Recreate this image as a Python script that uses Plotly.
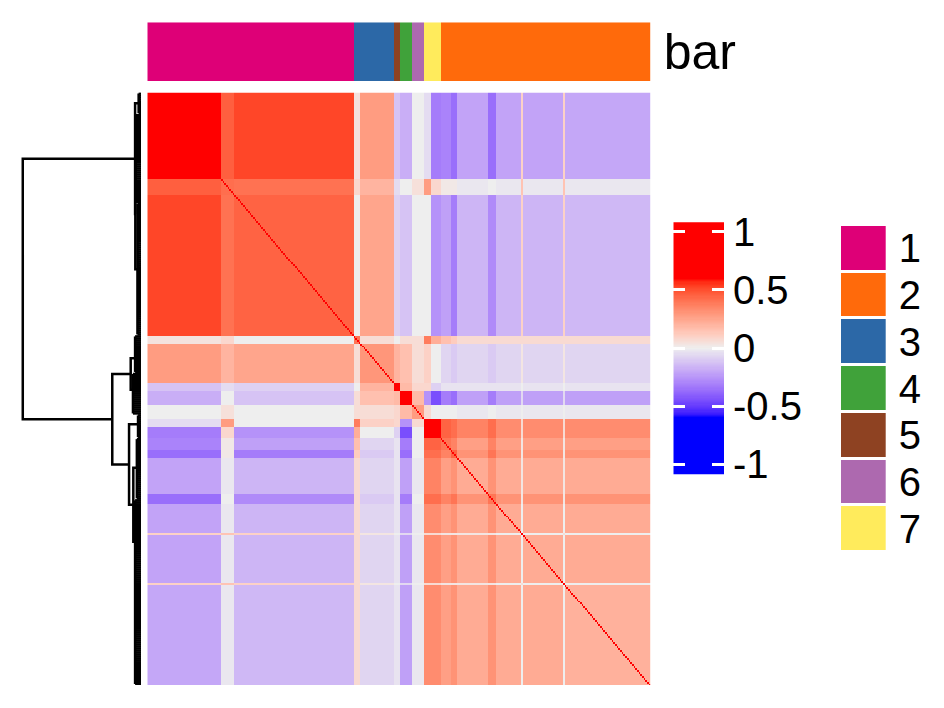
import numpy as np
import plotly.graph_objects as go

W, H = 944, 708
OFF = 8  # page body margin of the rendered html
FONT = "Liberation Sans, Arial, sans-serif"

# ---------------- data ----------------
# top annotation: cluster label of each column block (column order) and block sizes
bar_clusters = ["1", "3", "5", "4", "6", "7", "2"]
bar_sizes = [123, 24, 4, 7, 7, 10, 125]

legend_labels = ["1", "2", "3", "4", "5", "6", "7"]
legend_colors = ["#DE0077", "#FF6A0B", "#2C68A7", "#40A23A", "#8E4222", "#AD69AF", "#FFEB5C"]

# correlation structure: ordered segments of items and mean correlation between segments
seg_names = ["A1", "A2a", "A2b", "C3a", "C3b", "Br", "Gr", "Pu", "Ya", "Yb",
             "D1", "D2", "D3", "D4", "D5a", "X1", "D5b", "X2", "D5c"]
seg_sizes = [44, 8, 71, 4, 20, 4, 7, 7, 4, 6, 6, 4, 18, 5, 15, 1, 24, 1, 51]
# upper triangle rows (row i lists values for segments i..end)
seg_upper = [
    [0.78, 0.46, 0.52, 0.04, 0.28, -0.12, -0.18, 0.00, -0.05, -0.32, -0.30, -0.36, -0.21, -0.36, -0.21, 0.10, -0.21, 0.10, -0.20],
    [0.42, 0.41, 0.08, 0.20, -0.05, 0.00, 0.05, 0.28, 0.08, 0.02, 0.02, -0.02, 0.00, -0.02, 0.15, -0.02, 0.15, -0.02],
    [0.45, 0.00, 0.25, -0.08, -0.12, 0.00, 0.00, -0.26, -0.22, -0.32, -0.16, -0.28, -0.16, 0.10, -0.16, 0.10, -0.15],
    [0.40, 0.06, 0.00, 0.06, 0.06, 0.38, 0.22, 0.16, 0.12, 0.07, 0.07, 0.07, 0.07, 0.07, 0.07, 0.07],
    [0.30, 0.20, 0.16, 0.06, 0.10, 0.00, -0.07, -0.10, -0.07, -0.10, -0.07, 0.03, -0.07, 0.03, -0.07],
    [0.75, 0.18, 0.08, 0.08, -0.08, -0.03, -0.03, -0.03, -0.03, -0.03, 0.00, -0.03, 0.00, -0.03],
    [0.70, 0.18, -0.26, -0.45, -0.32, -0.36, -0.22, -0.32, -0.22, -0.06, -0.22, -0.06, -0.22],
    [0.28, 0.07, 0.00, 0.00, 0.00, -0.02, 0.00, -0.02, 0.00, -0.02, 0.00, -0.02],
    [0.80, 0.80, 0.45, 0.42, 0.36, 0.42, 0.33, 0.07, 0.33, 0.07, 0.33],
    [0.80, 0.45, 0.42, 0.36, 0.42, 0.33, 0.07, 0.33, 0.07, 0.33],
    [0.40, 0.36, 0.27, 0.36, 0.27, 0.03, 0.27, 0.03, 0.27],
    [0.45, 0.31, 0.40, 0.31, 0.03, 0.31, 0.03, 0.31],
    [0.23, 0.31, 0.23, 0.03, 0.23, 0.03, 0.23],
    [0.40, 0.31, 0.03, 0.31, 0.03, 0.31],
    [0.23, 0.00, 0.23, 0.00, 0.23],
    [1.00, 0.00, 0.06, 0.00],
    [0.23, 0.00, 0.23],
    [1.00, 0.00],
    [0.21],
]

# row dendrogram: leaf groups (first item, last item, attach position, height)
dend_groups = [
    (0, 10, 5.0, 0.020),
    (11, 55, 33.0, 0.045),
    (56, 122, 89.0, 0.030),
    (123, 141, 134.0, 0.050),
    (142, 162, 150.0, 0.068),
    (163, 174, 167.5, 0.025),
    (175, 205, 189.5, 0.035),
    (206, 299, 227.0, 0.050),
]
# internal nodes: (height, child a, child b); children "gK" = leaf group K, "nK" = node K
dend_nodes = [
    (0.048, "g1", "g2"),
    (0.050, "g0", "n0"),
    (0.087, "g3", "g4"),
    (0.065, "g6", "g7"),
    (0.101, "g5", "n3"),
    (0.243, "n2", "n4"),
    (1.000, "n1", "n5"),
]

# ---------------- build matrix ----------------
nseg = len(seg_sizes)
B = np.zeros((nseg, nseg))
for i, row in enumerate(seg_upper):
    for k, v in enumerate(row):
        B[i, i + k] = v
        B[i + k, i] = v
seg_idx = np.repeat(np.arange(nseg), seg_sizes)
Z = B[np.ix_(seg_idx, seg_idx)]
np.fill_diagonal(Z, 1.0)
N = Z.shape[0]
items = np.arange(N)

bar_codes = np.repeat([legend_labels.index(c) + 1 for c in bar_clusters], bar_sizes)

# ---------------- colour mapping (LAB interpolation like colorRamp2) ----------------
def hex2rgb(h):
    h = h.lstrip("#")
    return np.array([int(h[i:i + 2], 16) for i in (0, 2, 4)]) / 255.0

def rgb2lab(c):
    c = np.where(c > 0.04045, ((c + 0.055) / 1.055) ** 2.4, c / 12.92)
    M = np.array([[0.4124, 0.3576, 0.1805], [0.2126, 0.7152, 0.0722], [0.0193, 0.1192, 0.9505]])
    xyz = M @ c / np.array([0.95047, 1.0, 1.08883])
    f = np.where(xyz > 0.008856, np.cbrt(xyz), 7.787 * xyz + 16 / 116)
    return np.array([116 * f[1] - 16, 500 * (f[0] - f[1]), 200 * (f[1] - f[2])])

def lab2rgb(lab):
    fy = (lab[0] + 16) / 116
    fx = fy + lab[1] / 500
    fz = fy - lab[2] / 200
    f = np.array([fx, fy, fz])
    xyz = np.where(f ** 3 > 0.008856, f ** 3, (f - 16 / 116) / 7.787) * np.array([0.95047, 1.0, 1.08883])
    Mi = np.array([[3.2406, -1.5372, -0.4986], [-0.9689, 1.8758, 0.0415], [0.0557, -0.2040, 1.0570]])
    c = Mi @ xyz
    c = np.where(c > 0.0031308, 1.055 * np.clip(c, 0, None) ** (1 / 2.4) - 0.055, 12.92 * c)
    return np.clip(c, 0, 1)

breaks = [-0.6, 0.0, 0.6]
bcols = [rgb2lab(hex2rgb(h)) for h in ["#0000FF", "#EEEEEE", "#FF0000"]]

def col_fun(v):
    if v <= breaks[0]:
        lab = bcols[0]
    elif v >= breaks[2]:
        lab = bcols[2]
    elif v <= 0:
        t = (v - breaks[0]) / (breaks[1] - breaks[0])
        lab = bcols[0] * (1 - t) + bcols[1] * t
    else:
        t = (v - breaks[1]) / (breaks[2] - breaks[1])
        lab = bcols[1] * (1 - t) + bcols[2] * t
    r, g, b = (lab2rgb(lab) * 255).round().astype(int)
    return f"rgb({r},{g},{b})"

cs_vals = [-1.0, -0.6] + list(np.round(np.arange(-0.57, 0.6, 0.03), 3)) + [0.6, 1.0]
colorscale = [[(v + 1) / 2, col_fun(v)] for v in cs_vals]

def discrete_scale(cols):
    n = len(cols)
    out = []
    for k, c in enumerate(cols):
        out.append([k / n, c])
        out.append([(k + 1) / n, c])
    return out

disc = discrete_scale(legend_colors)

# ---------------- dendrogram lines ----------------
def node_info(ref):
    if ref[0] == "g":
        g = dend_groups[int(ref[1:])]
        return g[2], g[3]
    n = dend_nodes[int(ref[1:])]
    pa, _ = node_info(n[1])
    pb, _ = node_info(n[2])
    return (pa + pb) / 2, n[0]

dx, dy = [], []
for (a, b, pos, h) in dend_groups:
    for i in range(a, b + 1):
        dx += [0, h, None]
        dy += [i, i, None]
    dx += [h, h, None]
    dy += [a, b, None]
for (h, ca, cb) in dend_nodes:
    pa, ha = node_info(ca)
    pb, hb = node_info(cb)
    dx += [ha, h, h, hb, None]
    dy += [pa, pa, pb, pb, None]

# ---------------- figure ----------------
def px_x(a, b):
    return [(a - OFF) / W, (b - OFF) / W]

def px_y(top, bottom):
    return [1 - (bottom - OFF) / H, 1 - (top - OFF) / H]

fig = go.Figure()
fig.add_trace(go.Heatmap(z=Z, x=items, y=items, colorscale=colorscale, zmin=-1, zmax=1,
                         showscale=False, xaxis="x", yaxis="y", hoverinfo="skip"))
fig.add_trace(go.Heatmap(z=[bar_codes], x=items, y=[0], colorscale=disc, zmin=0.5, zmax=7.5,
                         showscale=False, xaxis="x2", yaxis="y2", hoverinfo="skip"))
fig.add_trace(go.Scatter(x=dx, y=dy, mode="lines", line=dict(color="black", width=2.5),
                         xaxis="x3", yaxis="y3", showlegend=False, hoverinfo="skip"))
ramp = np.round(np.linspace(-1.09, 1.09, 219), 4)
fig.add_trace(go.Heatmap(z=[[v] for v in ramp], x=[0], y=ramp, colorscale=colorscale, zmin=-1, zmax=1,
                         showscale=False, xaxis="x4", yaxis="y4", hoverinfo="skip"))
fig.add_trace(go.Heatmap(z=[[k + 1] for k in range(len(legend_labels))], x=[0],
                         y=list(range(len(legend_labels))), colorscale=disc, zmin=0.5, zmax=7.5,
                         ygap=3, showscale=False, xaxis="x5", yaxis="y5", hoverinfo="skip"))

hm_x = px_x(147.3, 650.7)
hide = dict(visible=False, showgrid=False, zeroline=False, automargin=False)
common = dict(showline=False, showgrid=False, zeroline=False, automargin=False)
fig.update_layout(
    template="none",
    width=W, height=H, margin=dict(l=0, r=0, t=0, b=0, autoexpand=False),
    paper_bgcolor="white", plot_bgcolor="white",
    font=dict(family=FONT, color="black"),
    showlegend=False,
    xaxis=dict(domain=hm_x, range=[-0.5, N - 0.5], anchor="y", **hide),
    yaxis=dict(domain=px_y(92.5, 685), range=[N - 0.5, -0.5], anchor="x", **hide),
    xaxis2=dict(domain=hm_x, range=[-0.5, N - 0.5], anchor="y2", **hide),
    yaxis2=dict(domain=px_y(22.3, 81), range=[-0.5, 0.5], anchor="x2", side="right",
                tickvals=[0], ticktext=["bar"], ticks="",
                tickfont=dict(size=50, family=FONT), ticklabelstandoff=12, **common),
    xaxis3=dict(domain=px_x(21, 141), range=[1.015, 0], anchor="y3", **hide),
    yaxis3=dict(domain=px_y(92.5, 685), range=[N - 0.5, -0.5], anchor="x3", **hide),
    xaxis4=dict(domain=px_x(673.3, 724), range=[-0.5, 0.5], anchor="y4", **hide),
    yaxis4=dict(domain=px_y(222.3, 474.3), range=[-1.086, 1.081], anchor="x4", side="right",
                tickvals=[1, 0.5, 0, -0.5, -1], ticktext=["1", "0.5", "0", "-0.5", "-1"],
                ticks="inside", ticklen=12, tickwidth=2.5, tickcolor="white", mirror="ticks",
                tickfont=dict(size=40, family=FONT), ticklabelstandoff=8, **common),
    xaxis5=dict(domain=px_x(841, 885.7), range=[-0.5, 0.5], anchor="y5", **hide),
    yaxis5=dict(domain=px_y(225, 552), range=[len(legend_labels) - 0.5, -0.5], anchor="x5",
                side="right", tickvals=list(range(len(legend_labels))), ticktext=legend_labels,
                ticks="", tickfont=dict(size=40, family=FONT), ticklabelstandoff=12, **common),
)

fig.write_html("out.html")
